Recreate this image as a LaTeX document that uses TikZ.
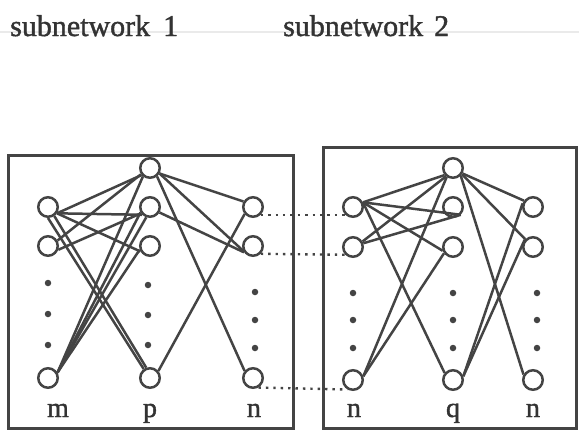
\documentclass[tikz,border=0pt]{standalone}
\usepackage{fontspec}
\setmainfont{Liberation Serif}
\newfontfamily\heavyserif[FakeBold=1.4]{Liberation Serif}
\definecolor{ink}{HTML}{444444}
\definecolor{txt}{HTML}{333333}
\definecolor{haze}{HTML}{EAEAEA}
\begin{document}
\begin{tikzpicture}[x=1pt,y=-1pt,
  unit/.style={circle,draw=ink,line width=2.5pt,minimum size=19.5pt,inner sep=0pt,fill=white},
  link/.style={draw=ink,line width=2.5pt},
  bridge/.style={draw=ink,line width=2.4pt,dash pattern=on 2.4pt off 5pt},
  ellip/.style={circle,fill=ink,minimum size=6.5pt,inner sep=0pt},
  frame/.style={draw=ink,line width=3pt},
  title/.style={anchor=base west,text=txt,inner sep=0pt,font=\heavyserif\fontsize{30}{32}\selectfont},
  lab/.style={anchor=base,text=txt,inner sep=0pt,font=\heavyserif\fontsize{28}{30}\selectfont}]
\useasboundingbox (0,0) rectangle (579,434);

% faint rule behind the titles
\draw[haze,line width=2.5pt] (0,32) -- (579,32);
\node[title] (t1) at (10,36) {subnetwork\hspace{13pt}1};
\node[title] (t2) at (283,36) {subnetwork\hspace{11pt}2};

% frames of the two subnetworks
\draw[frame] (8,155) rectangle (293,428);
\draw[frame] (323,147) rectangle (576,428);

% subnetwork 1: layers m, p, n
\node[unit] (m1) at (48,207) {};
\node[unit] (m2) at (48,246) {};
\node[unit] (mB) at (48,378) {};
\node[unit] (p0) at (150,168) {};
\node[unit] (p1) at (150,207) {};
\node[unit] (p2) at (150,246) {};
\node[unit] (pB) at (150,378) {};
\node[unit] (n1) at (253,207) {};
\node[unit] (n2) at (253,246) {};
\node[unit] (nB) at (253,378) {};

% subnetwork 2: layers n, q, n
\node[unit] (a1) at (353,207) {};
\node[unit] (a2) at (353,247) {};
\node[unit] (aB) at (353,380) {};
\node[unit] (q0) at (453,168) {};
\node[unit] (q1) at (453,207) {};
\node[unit] (q2) at (453,247) {};
\node[unit] (qB) at (453,380) {};
\node[unit] (b1) at (533,207) {};
\node[unit] (b2) at (533,247) {};
\node[unit] (bB) at (533,380) {};

% vertical ellipses
\foreach \nm/\x/\ya/\yb/\yc in {dm/48/283/314/345, dp/148/285/315/345, dn/255/292/320/348,
                                 da/353/293/320/348, dq/453/293/320/348, db/537/293/320/348}{
  \node[ellip] (\nm1) at (\x,\ya) {};
  \node[ellip] (\nm2) at (\x,\yb) {};
  \node[ellip] (\nm3) at (\x,\yc) {};
}

% layer labels
\node[lab] (lm)  at (58,417)  {m};
\node[lab] (lp)  at (150,417) {p};
\node[lab] (ln)  at (254,417) {n};
\node[lab] (la)  at (354,417) {n};
\node[lab] (lq)  at (453,417) {q};
\node[lab] (lb)  at (533,417) {n};

% connections in subnetwork 1
\draw[link] (m1.-35) -- (p0.220);
\draw[link] (m1.-35) -- (p1.225);
\draw[link] (m1.-35) -- (p2.210);
\draw[link] (m1.-90) -- (pB.125);
\draw[link] (m1.-55) -- (pB.110);
\draw[link] (m2.30)  -- (p0.215);
\draw[link] (m2.-20) -- (p1.215);
\draw[link] (mB.30)  -- (p0.230);
\draw[link] (mB.30)  -- (p1.210);
\draw[link] (mB.30)  -- (p1.250);
\draw[link] (mB.30)  -- (p2.200);
\draw[link] (p0.-30) -- (n1.150);
\draw[link] (p0.-30) -- (n2.205);
\draw[link] (p0.-50) -- (nB.140);
\draw[link] (p1.-30) -- (n2.215);
\draw[link] (pB.40)  -- (n1.220);

% connections in subnetwork 2
\draw[link] (a1.25)  -- (q0.220);
\draw[link] (a1.25)  -- (q1.-45);
\draw[link] (a1.25)  -- (q2.200);
\draw[link] (a1.25)  -- (qB.140);
\draw[link] (a2.30)  -- (q0.230);
\draw[link] (a2.20)  -- (q1.-45);
\draw[link] (aB.20)  -- (q0.235);
\draw[link] (aB.20)  -- (q2.215);
\draw[link] (q0.-30) -- (b1.145);
\draw[link] (q0.-35) -- (b2.135);
\draw[link] (q0.-45) -- (bB.150);
\draw[link] (qB.20)  -- (b1.160);
\draw[link] (qB.20)  -- (b2.140);

% shared units between the subnetworks
\draw[bridge] (n1.-45) -- (a1.225);
\draw[bridge] (n2.-45) -- (a2.225);
\draw[bridge] (nB.-60) -- (aB.240);
\end{tikzpicture}
\end{document}
